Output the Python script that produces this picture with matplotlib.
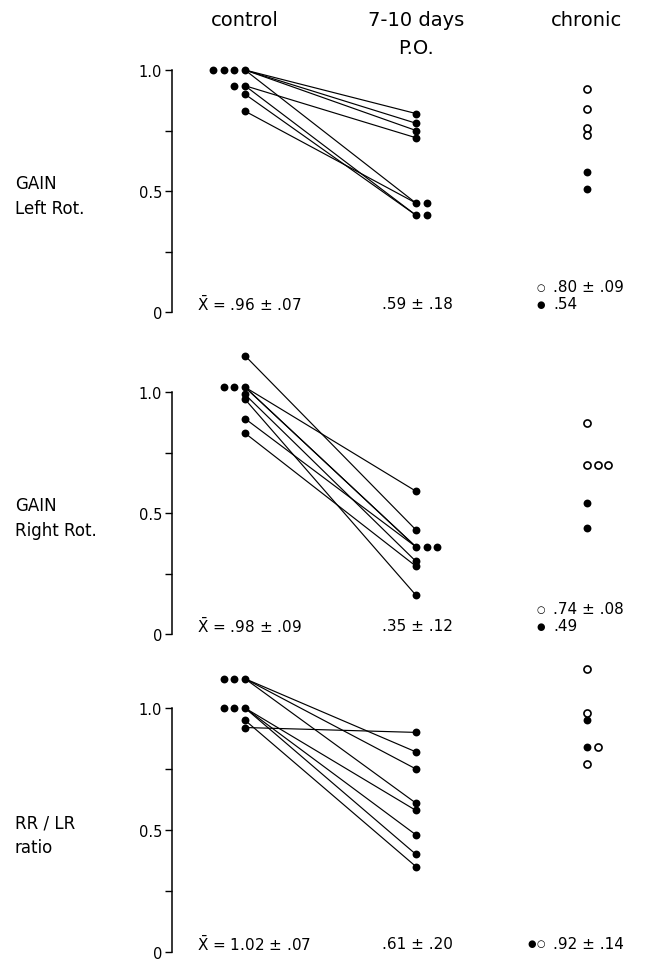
import matplotlib.pyplot as plt
from matplotlib.transforms import blended_transform_factory

plt.rcParams['font.family'] = ['DejaVu Sans']

# columns: 0 = control, 1 = 7-10 days P.O., 2 = chronic
col_titles = ['control', '7-10 days', 'chronic']
row_labels = ['GAIN\nLeft Rot.', 'GAIN\nRight Rot.', 'RR / LR\nratio']

# paired values per subject (control -> 7-10 days P.O.)
left_control = [1.00, 1.00, 1.00, 1.00, 0.935, 0.935, 0.90, 0.83]
left_po = [0.82, 0.78, 0.75, 0.45, 0.72, 0.40, 0.40, 0.45]
left_chronic_open = [0.92, 0.84, 0.76, 0.73]
left_chronic_filled = [0.58, 0.51]

right_control = [1.15, 1.02, 1.02, 1.02, 0.99, 0.97, 0.89, 0.83]
right_po = [0.43, 0.59, 0.36, 0.36, 0.30, 0.16, 0.36, 0.28]
right_chronic_open = [0.87, 0.70, 0.70, 0.70]
right_chronic_filled = [0.54, 0.44]

ratio_control = [1.12, 1.12, 1.12, 1.00, 1.00, 1.00, 0.95, 0.92]
ratio_po = [0.82, 0.75, 0.61, 0.58, 0.48, 0.40, 0.35, 0.90]
ratio_chronic_open = [1.16, 0.98, 0.84, 0.77]
ratio_chronic_filled = [0.95, 0.84]

control_means = ['.96 ± .07', '.98 ± .09', '1.02 ± .07']
po_means = ['.59 ± .18', '.35 ± .12', '.61 ± .20']
chronic_open_means = ['.80 ± .09', '.74 ± .08', None]
chronic_filled_means = ['.54', '.49', None]
chronic_all_mean = [None, None, '.92 ± .14']

panels = [
    (left_control, left_po, left_chronic_open, left_chronic_filled),
    (right_control, right_po, right_chronic_open, right_chronic_filled),
    (ratio_control, ratio_po, ratio_chronic_open, ratio_chronic_filled),
]

W, H = 647, 962
rows_px = [(71, 313), (393, 635), (709, 953)]  # pixel rows of 1.0 and 0
axis_x, col0_x, col_gap = 172, 245, 171
step = 10.7 / col_gap


def spread(values, direction):
    # duplicates sit side by side, like in the original figure
    seen = {}
    offs = []
    for v in values:
        k = seen.get(v, 0)
        offs.append(direction * k * step)
        seen[v] = k + 1
    return offs


fig = plt.figure(figsize=(W / 100, H / 100), dpi=100)
axes = []
for i, (ctrl, po, ch_open, ch_fill) in enumerate(panels):
    top, bot = rows_px[i]
    ax = fig.add_axes([axis_x / W, 1 - bot / H, (W - axis_x) / W, (bot - top) / H])
    ax.set_xlim((axis_x - col0_x) / col_gap, (W - col0_x) / col_gap)
    ax.set_ylim(0, 1)
    axes.append(ax)

    for c, p in zip(ctrl, po):
        ax.plot([0, 1], [c, p], color='black', lw=0.85, clip_on=False, zorder=2)

    ax.scatter(spread(ctrl, -1), ctrl, s=32, color='black',
               clip_on=False, zorder=3, linewidths=0)
    ax.scatter([1 + o for o in spread(po, 1)], po, s=32, color='black',
               clip_on=False, zorder=3, linewidths=0)

    offs = spread(ch_fill + ch_open, 1)
    ax.scatter([2 + o for o in offs[:len(ch_fill)]], ch_fill, s=32, color='black',
               clip_on=False, zorder=3, linewidths=0)
    ax.scatter([2 + o for o in offs[len(ch_fill):]], ch_open, s=26, facecolor='white',
               edgecolor='black', linewidths=1.2, clip_on=False, zorder=3)

    for s in ['top', 'right', 'bottom']:
        ax.spines[s].set_visible(False)
    ax.spines['left'].set_linewidth(1.1)
    ax.spines['left'].set_bounds(0, 1)
    ax.set_xticks([])
    ax.set_yticks([0, 0.5, 1.0])
    ax.set_yticklabels(['0', '0.5', '1.0'])
    ax.set_yticks([0.25, 0.75], minor=True)
    ax.tick_params(axis='y', which='both', direction='out', length=5, width=1,
                   labelsize=10.5, pad=2)

    fs = 11
    ax.text((197 - col0_x) / col_gap, 0.035,
            r'$\bar{\mathrm{X}}$ = ' + control_means[i], fontsize=fs, va='center')
    ax.text((453 - col0_x) / col_gap, 0.035, po_means[i], fontsize=fs,
            va='center', ha='right')
    tx = (553 - col0_x) / col_gap
    if chronic_open_means[i]:
        ax.text(tx, 0.105, chronic_open_means[i], fontsize=fs, va='center')
        ax.text(tx - 0.07, 0.105, '○', fontsize=7, va='center', ha='center')
    if chronic_filled_means[i]:
        ax.text(tx, 0.035, chronic_filled_means[i], fontsize=fs, va='center')
        ax.text(tx - 0.07, 0.035, '●', fontsize=7, va='center', ha='center')
    if chronic_all_mean[i]:
        ax.text(tx, 0.035, chronic_all_mean[i], fontsize=fs, va='center')
        ax.text(tx - 0.07, 0.035, '○', fontsize=7, va='center', ha='center')
        ax.text(tx - 0.125, 0.035, '●', fontsize=7, va='center', ha='center')

    trans = blended_transform_factory(fig.transFigure, ax.transData)
    ax.text(15 / W, 0.48, row_labels[i], transform=trans, fontsize=12,
            va='center', ha='left', linespacing=1.5)

trans = blended_transform_factory(axes[0].transData, fig.transFigure)
for j, t in enumerate(col_titles):
    axes[0].text(j, 1 - 20 / H, t, transform=trans, fontsize=14,
                 ha='center', va='center')
axes[0].text(1, 1 - 48 / H, 'P.O.', transform=trans, fontsize=14,
             ha='center', va='center')

fig.savefig('out.png', dpi=100)
